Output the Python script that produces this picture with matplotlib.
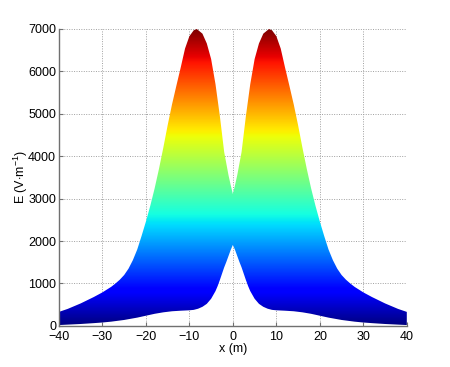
import numpy as np
import matplotlib
matplotlib.use("Agg")
import matplotlib.pyplot as plt

plt.rcParams['font.family'] = ['Liberation Sans', 'DejaVu Sans']
plt.rcParams['mathtext.fontset'] = 'custom'
plt.rcParams['mathtext.rm'] = 'Liberation Sans'
plt.rcParams['mathtext.it'] = 'Liberation Sans'

# upper envelope of the swept field curves (x in m, E in V/m)
x_up = [-40, -38, -35, -32, -30, -28, -27, -26, -25, -24, -23, -22, -21, -20, -19,
        -18, -17, -16, -15, -14, -13, -12, -11, -10, -9, -8.3, -7, -6, -5, -4, -3,
        -2, -1, -0.5, 0, 0.5, 1, 2, 3, 4, 5, 6, 7, 8.3, 9, 10, 11, 12, 13, 14, 15,
        16, 17, 18, 19, 20, 21, 22, 23, 24, 25, 26, 27, 28, 30, 32, 35, 38, 40]
e_up = [330, 400, 530, 680, 790, 920, 1000, 1090, 1200, 1350, 1550, 1800, 2120,
        2460, 2830, 3240, 3700, 4200, 4730, 5220, 5660, 6090, 6540, 6830, 6970,
        7000, 6890, 6660, 6290, 5700, 4950, 4100, 3550, 3320, 3110, 3320, 3550,
        4100, 4950, 5700, 6290, 6660, 6890, 7000, 6970, 6830, 6540, 6090, 5660,
        5220, 4730, 4200, 3700, 3240, 2830, 2460, 2120, 1800, 1550, 1350, 1200,
        1090, 1000, 920, 790, 680, 530, 400, 330]
# lower envelope
x_low = [-40, -38, -35, -32, -30, -28, -25, -22, -20, -18, -16, -14, -12, -10, -9,
         -8, -7, -6, -5, -4, -3.5, -3, -2.5, -2, -1.5, -1, -0.5, 0, 0.5, 1, 1.5, 2,
         2.5, 3, 3.5, 4, 5, 6, 7, 8, 9, 10, 12, 14, 16, 18, 20, 22, 25, 28, 30, 32,
         35, 38, 40]
e_low = [20, 30, 45, 65, 80, 100, 140, 195, 240, 285, 320, 345, 358, 368, 378,
         405, 450, 520, 640, 820, 940, 1080, 1230, 1380, 1510, 1650, 1790, 1910,
         1790, 1650, 1510, 1380, 1230, 1080, 940, 820, 640, 520, 450, 405, 378, 368,
         358, 345, 320, 285, 240, 195, 140, 100, 80, 65, 45, 30, 20]

x_ticks = [-40, -30, -20, -10, 0, 10, 20, 30, 40]
y_ticks = [0, 1000, 2000, 3000, 4000, 5000, 6000, 7000]

fig = plt.figure(figsize=(4.5, 3.67), dpi=100)
ax = fig.add_axes([0.131, 0.112, 0.773, 0.809])

poly_x = np.concatenate([x_up, x_low[::-1]])
poly_y = np.concatenate([e_up, e_low[::-1]])
patch = ax.fill(poly_x, poly_y, facecolor='none', edgecolor='none')[0]
grad = np.linspace(0, 7000, 600).reshape(-1, 1)
im = ax.imshow(grad, cmap='jet', extent=[-40, 40, 0, 7000], origin='lower',
               aspect='auto', vmin=0, vmax=7000, interpolation='bilinear', zorder=2)
im.set_clip_path(patch)

ax.set_xlim(-40, 40)
ax.set_ylim(0, 7000)
ax.set_xticks(x_ticks)
ax.set_yticks(y_ticks)
ax.grid(True, linestyle=(0, (1, 1.5)), color='#a0a0a0', linewidth=0.7, zorder=1)
ax.set_axisbelow(True)
for s in ['top', 'right']:
    ax.spines[s].set_visible(False)
for s in ['left', 'bottom']:
    ax.spines[s].set_color('#707070')
    ax.spines[s].set_linewidth(1.0)
    ax.spines[s].set_zorder(3)
ax.tick_params(direction='in', length=3, color='#707070', labelsize=9,
               labelcolor='black', pad=2)
ax.tick_params(axis='x', pad=4)
ax.set_xlabel('x (m)', fontsize=9, labelpad=0)
ax.set_ylabel(r'E (V$\cdot$m$^{-1}$)', fontsize=9, labelpad=-1)

fig.savefig('out.png', dpi=100)
